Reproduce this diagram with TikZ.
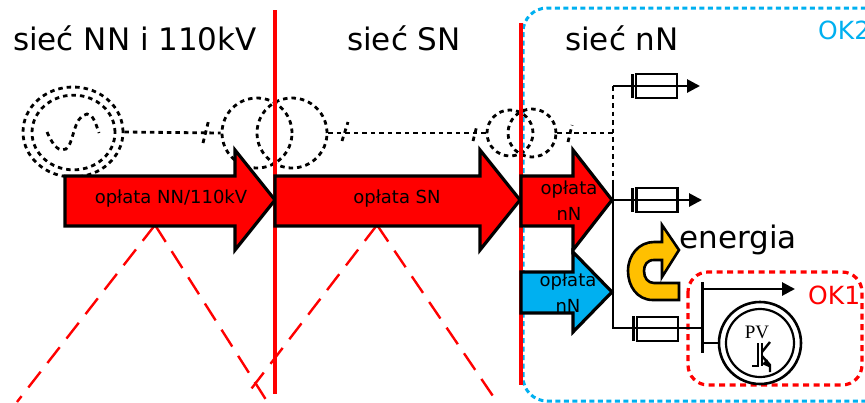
\documentclass[tikz,border=0pt]{standalone}
\usepackage{fontspec}
\setmainfont{DejaVu Sans}
\newfontfamily\pvfont{Liberation Serif}
\usepackage{tikz}
\usetikzlibrary{arrows.meta}
\definecolor{okblue}{HTML}{00B0F0}
\definecolor{okgold}{HTML}{FFC000}
\tikzset{
  titletext/.style={font=\fontsize{31}{33}\selectfont,inner sep=0pt},
  fee/.style={font=\fontsize{18}{26}\selectfont,inner sep=0pt,align=center},
  feearrow/.style={draw=black,line width=3.2pt,miter limit=10},
  gridline/.style={line width=2.8pt,dash pattern=on 4.5pt off 4pt},
  wire/.style={line width=2.8pt},
  fuse/.style={draw,rectangle,line width=2.6pt,minimum width=41pt,minimum height=24pt,inner sep=0pt},
  busbar/.style={line width=3pt},
  winding/.style={draw,circle,gridline,inner sep=0pt},
  wall/.style={red,line width=3.5pt},
  zone/.style={red,line width=2.4pt,dash pattern=on 20pt off 11pt},
  tip/.style={-{Triangle[length=13pt,width=13pt]}}
}
\begin{document}
\begin{tikzpicture}[x=1pt,y=-1pt]
\useasboundingbox (0,0) rectangle (865,402);
\clip (0,0) rectangle (865,402);
% zones
\draw[okblue,line width=3pt,dash pattern=on 5pt off 3.5pt,rounded corners=24pt] (523,8) rectangle (890,401);
\draw[red,line width=3.2pt,dash pattern=on 6pt off 4.5pt,rounded corners=20pt] (688,272) rectangle (862,385);
% dashed triangles
\coordinate (apexa) at (155,225);
\coordinate (apexb) at (377,225);
\draw[zone] (apexa) -- (17,402);
\draw[zone] (apexa) -- (270,406);
\draw[zone] (apexb) -- (245,397);
\draw[zone] (apexb) -- (497,402);
% generator
\node[winding,minimum size=100pt,yscale=.9] (gena) at (73,132) {};
\node[winding,minimum size=83pt,yscale=.9] (genb) at (73.5,132.5) {};
\draw[gridline] (47,132) .. controls (54,148) and (60,152) .. (66,149) .. controls (74,144) and (73,116) .. (87,114) .. controls (93,114) and (96,124) .. (99,133);
% transformers
\node[winding,minimum size=70pt] (tra) at (257,133) {};
\node[winding,minimum size=70pt] (trb) at (292,133) {};
\node[winding,minimum size=46pt] (trc) at (510,133) {};
\node[winding,minimum size=48pt] (trd) at (532,133) {};
\coordinate (feederm) at (613,133);
\coordinate (feedera) at (613,86);
\draw[gridline] (gena.east) -- (tra.west);
\draw[gridline] (trb.east) -- (trc.west);
\draw[gridline] (trd.east) -- (feederm);
\draw[gridline] (203,143) -- (209,119);
\draw[gridline] (342,141) -- (348,122);
\draw[gridline] (473,141) -- (477,125);
\draw[gridline] (568,142) -- (572,125);
\draw[gridline] (feedera) -- (613,182);
% walls
\draw[wall] (275,10) -- (275,394);
\draw[wall] (521,23) -- (521,385);
% fee arrows
\draw[feearrow,fill=red] (65,176) -- (235,176) -- (235,150) -- (275,200) -- (235,250) -- (235,226) -- (65,226) -- cycle;
\draw[feearrow,fill=red] (275,176) -- (480,176) -- (480,150) -- (520,200) -- (480,250) -- (480,226) -- (275,226) -- cycle;
\draw[feearrow,fill=red] (521,176) -- (573,176) -- (573,150) -- (612,200) -- (573,250) -- (573,226) -- (521,226) -- cycle;
\draw[feearrow,fill=okblue] (521,272) -- (573,272) -- (573,252) -- (612,292) -- (573,332) -- (573,313) -- (521,313) -- cycle;
\node[fee] (feea) at (171,199) {opłata NN/110kV};
\node[fee] (feeb) at (397,199) {opłata SN};
\node[fee] (feec) at (569,201) {opłata\\nN};
\node[fee] (feed) at (568,293) {opłata\\nN};
% feeders
\coordinate (feederb) at (613,200);
\coordinate (feederc) at (613,328);
\coordinate (bustop) at (702,282);
\coordinate (busbot) at (702,353);
\coordinate (busin) at (702,328);
\coordinate (busout) at (702,289);
\coordinate (outa) at (700,86);
\coordinate (outb) at (702,200);
\coordinate (outc) at (795,289);
\node[fuse] (fusea) at (656.5,86) {};
\node[fuse] (fuseb) at (657,200) {};
\node[fuse] (fusec) at (657.5,329) {};
\draw[wire,tip] (feedera) -- (outa);
\draw[wire,tip] (feederb) -- (outb);
\draw[wire,tip] (busout) -- (outc);
\draw[wire] (613,182) -- (feederc) -- (busin);
\draw[busbar] (632,74) -- (632,98);
\draw[busbar] (632,188) -- (632,212);
\draw[busbar] (633,316) -- (633,341);
\draw[busbar] (bustop) -- (busbot);
% energy arrow
\draw[fill=okgold,draw=black,line width=2.6pt,miter limit=10] (679,300) -- (653,300) .. controls (637,300) and (628,286) .. (628,271) .. controls (628,255) and (639,242) .. (654,242) -- (662,242) -- (662,225) -- (679,250) -- (662,277) -- (662,260) -- (654,260) .. controls (647,260) and (644,265) .. (644,271) .. controls (644,278) and (648,283) .. (654,283) -- (679,283) -- cycle;
\node[font=\fontsize{31}{33}\selectfont,inner sep=0pt] (energy) at (738,240) {energia};
% PV
\node[draw,circle,line width=2.6pt,minimum size=82pt,inner sep=0pt] (pva) at (760,343) {};
\node[draw,circle,line width=2.2pt,minimum size=68pt,inner sep=0pt] (pvb) at (760,343) {};
\draw[wire] (pva.west) -- (pva.west -| busbot);
\node[font=\pvfont\fontsize{19}{20}\selectfont,inner sep=0pt] (pvtext) at (757,332) {PV};
\draw[line width=2.4pt] (752,366) -- (758,366) -- (758,343);
\draw[line width=2.4pt] (762,343) -- (762,366);
\draw[line width=2.4pt] (770,342) -- (762,352);
\draw[line width=2.4pt] (762,356) -- (770,365) -- (770,372);
\fill (767,359) -- (771,368) -- (762,364) -- cycle;
% titles
\node[titletext] (siecnn) at (135,38) {sieć NN i 110kV};
\node[titletext] (siecsn) at (404,38) {sieć SN};
\node[titletext] (siecn) at (622,38) {sieć nN};
\node[font=\fontsize{25}{27}\selectfont,text=okblue,inner sep=0pt,anchor=west] (oktwo) at (818,30) {OK2};
\node[font=\fontsize{25}{27}\selectfont,text=red,inner sep=0pt,anchor=west] (okone) at (808,295) {OK1};
\end{tikzpicture}
\end{document}
